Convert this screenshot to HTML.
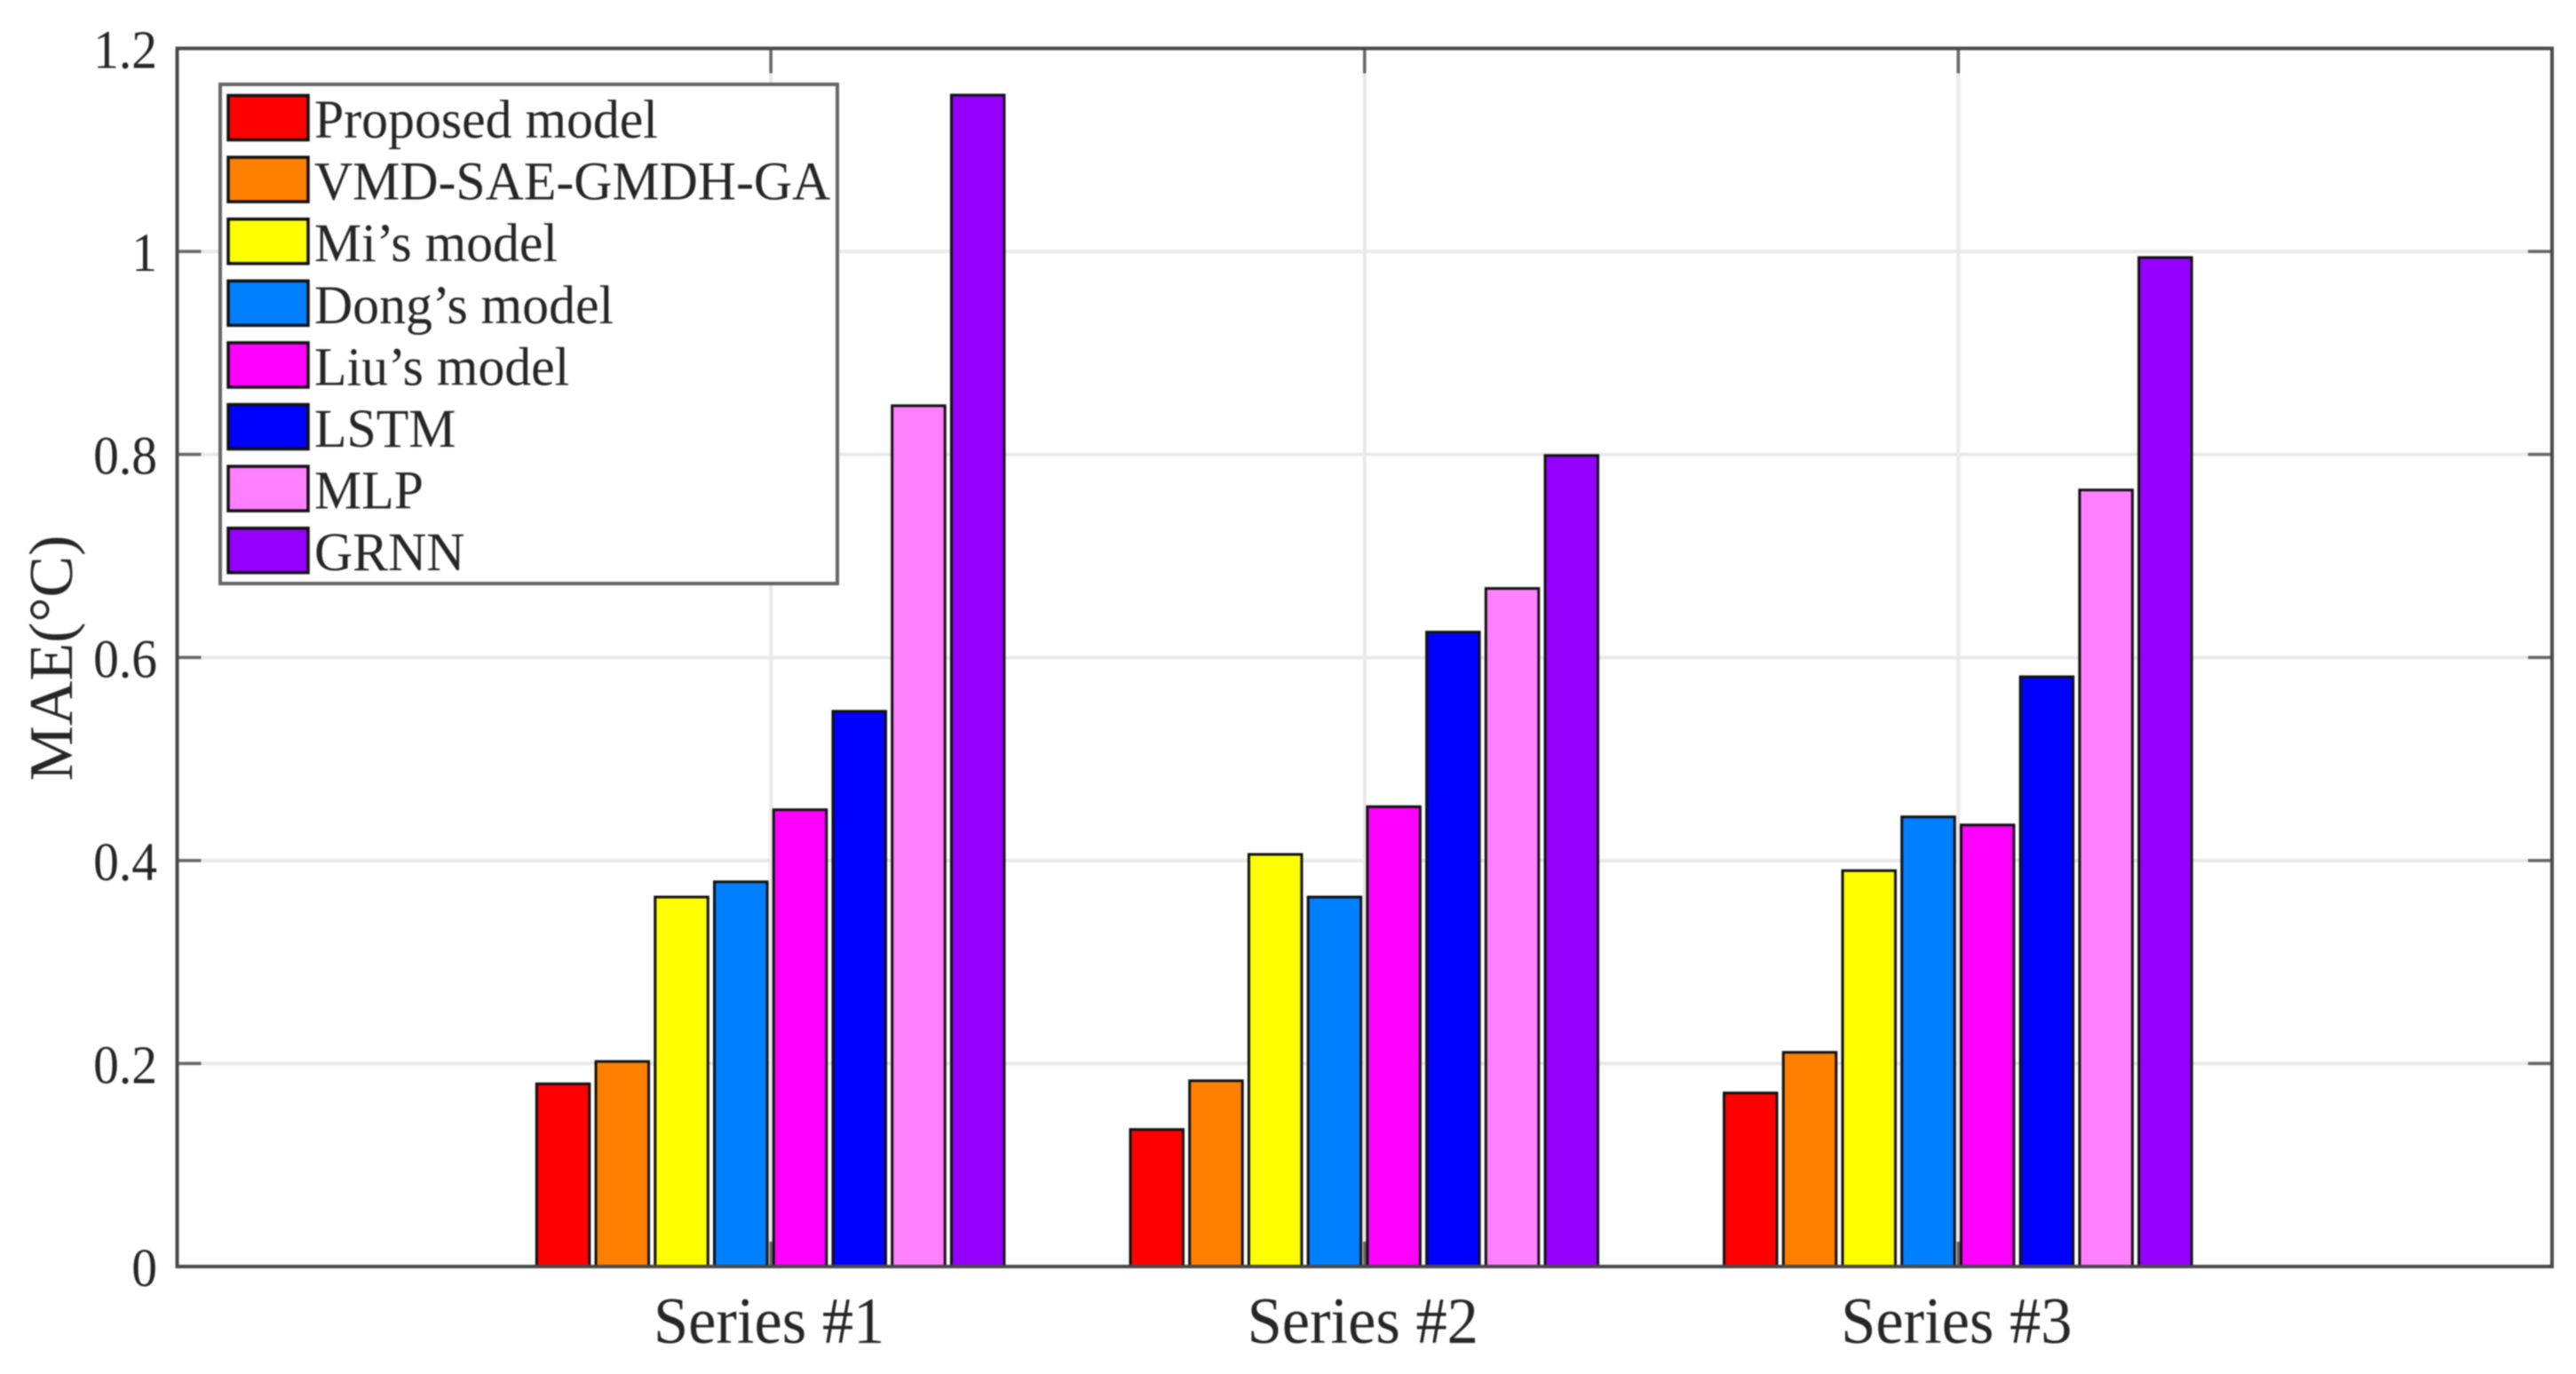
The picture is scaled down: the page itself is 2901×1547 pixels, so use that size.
<!DOCTYPE html>
<html lang="en">
<head>
<meta charset="utf-8">
<title>MAE by model and series</title>
<style>
  html, body { margin: 0; padding: 0; background: #fff; }
  body { width: 2901px; height: 1547px; overflow: hidden; }
  svg { display: block; filter: blur(0.7px); }
  text { font-family: "Liberation Serif", serif; fill: #262626; }
</style>
</head>
<body>
<svg id="chart" xmlns="http://www.w3.org/2000/svg" width="2901" height="1547" viewBox="0 0 2901 1547"></svg>
<script>
const categories = ["Series #1", "Series #2", "Series #3"];
const modelNames = ["Proposed model", "VMD-SAE-GMDH-GA", "Mi\u2019s model", "Dong\u2019s model", "Liu\u2019s model", "LSTM", "MLP", "GRNN"];
const modelColors = ["#ff0000", "#ff8000", "#ffff00", "#0080ff", "#ff00ff", "#0000ff", "#ff80ff", "#9500ff"];
const proposedValues = [0.180, 0.135, 0.171];
const vmdValues = [0.202, 0.183, 0.211];
const miValues = [0.364, 0.406, 0.390];
const dongValues = [0.379, 0.364, 0.443];
const liuValues = [0.450, 0.453, 0.435];
const lstmValues = [0.547, 0.625, 0.581];
const mlpValues = [0.848, 0.668, 0.765];
const grnnValues = [1.154, 0.799, 0.994];
const yTickValues = [0, 0.2, 0.4, 0.6, 0.8, 1, 1.2];
const yTickLabels = ["0", "0.2", "0.4", "0.6", "0.8", "1", "1.2"];

const seriesValues = [proposedValues, vmdValues, miValues, dongValues, liuValues, lstmValues, mlpValues, grnnValues];
const NS = "http://www.w3.org/2000/svg";
const svg = document.getElementById("chart");

const plot = { left: 199.5, right: 2874, top: 54.5, bottom: 1426 };
const xMax = categories.length + 1;
const yMax = 1.2;
function xScale(v) { return plot.left + (v / xMax) * (plot.right - plot.left); }
function yScale(v) { return plot.bottom - (v / yMax) * (plot.bottom - plot.top); }

function make(tag, attrs, text) {
  const el = document.createElementNS(NS, tag);
  for (const k in attrs) el.setAttribute(k, attrs[k]);
  if (text !== undefined) el.textContent = text;
  svg.appendChild(el);
  return el;
}

// background
let bg = make("rect", { x: plot.left, y: plot.top, width: plot.right - plot.left, height: plot.bottom - plot.top, fill: "#fff" });



// gridlines
yTickValues.forEach(function (v) {
  if (v === 0 || v === yMax) return;
  const g = make("line", { x1: plot.left, x2: plot.right, y1: yScale(v), y2: yScale(v), stroke: "#e9e9e9", "stroke-width": 4 });
  
  
});
categories.forEach(function (c, i) {
  const x = xScale(i + 1);
  const g = make("line", { x1: x, x2: x, y1: plot.top, y2: plot.bottom, stroke: "#e9e9e9", "stroke-width": 4 });
  
  
});

// ticks
yTickValues.forEach(function (v) {
  if (v === 0 || v === yMax) return;
  const y = yScale(v);
  const t1 = make("line", { x1: plot.left, x2: plot.left + 27, y1: y, y2: y, stroke: "#666", "stroke-width": 3.5 });
  
  
  const t2 = make("line", { x1: plot.right - 27, x2: plot.right, y1: y, y2: y, stroke: "#666", "stroke-width": 3.5 });
  
  
});
categories.forEach(function (c, i) {
  const x = xScale(i + 1);
  const t1 = make("line", { x1: x, x2: x, y1: plot.top, y2: plot.top + 28, stroke: "#666", "stroke-width": 3.5 });
  
  
  const t2 = make("line", { x1: x, x2: x, y1: plot.bottom - 28, y2: plot.bottom, stroke: "#666", "stroke-width": 3.5 });
  
  
});

// bars
const barStep = 0.0998;
const barWidth = 0.089;
categories.forEach(function (c, ci) {
  seriesValues.forEach(function (vals, si) {
    const xc = xScale(ci + 1 + (si - (seriesValues.length - 1) / 2) * barStep);
    const w = xScale(barWidth) - xScale(0);
    const y = yScale(vals[ci]);
    const r = make("rect", { x: xc - w / 2 - 0.5, y: y, width: w, height: plot.bottom - y, fill: modelColors[si], stroke: "#111", "stroke-width": 3 });
    
    
  });
});

// axes box
let box = make("rect", { x: plot.left, y: plot.top, width: plot.right - plot.left, height: plot.bottom - plot.top, fill: "none", stroke: "#4a4a4a", "stroke-width": 4 });



// y tick labels
yTickValues.forEach(function (v, i) {
  const t = make("text", { "text-anchor": "end", "font-size": 57.5, transform: "translate(177 " + (yScale(v) + 22) + ") scale(1 1.07)" }, yTickLabels[i]);
  
  
});

// x tick labels
categories.forEach(function (c, i) {
  const t = make("text", { "text-anchor": "middle", "font-size": 70.5, transform: "translate(" + (xScale(i + 1) - 2) + " 1512) scale(1 1.05)" }, c);
  
  
});

// y axis title
let yTitle = make("text", { x: 0, y: 0, "text-anchor": "middle", "font-size": 70, transform: "translate(81 741) rotate(-90)" }, "MAE(\u00b0C)");



// legend
let legend = make("rect", { x: 248, y: 95, width: 695, height: 562, fill: "#fff", stroke: "#666", "stroke-width": 4 });


modelNames.forEach(function (name, i) {
  const top = 107.5 + i * 69.6;
  const s = make("rect", { x: 257, y: top, width: 90, height: 50, fill: modelColors[i], stroke: "#111", "stroke-width": 3.5 });
  
  
  const t = make("text", { "font-size": 59.8, transform: "translate(354 " + (155 + i * 69.6) + ") scale(1 1.03)" }, name);
  
  
});
</script>
</body>
</html>
